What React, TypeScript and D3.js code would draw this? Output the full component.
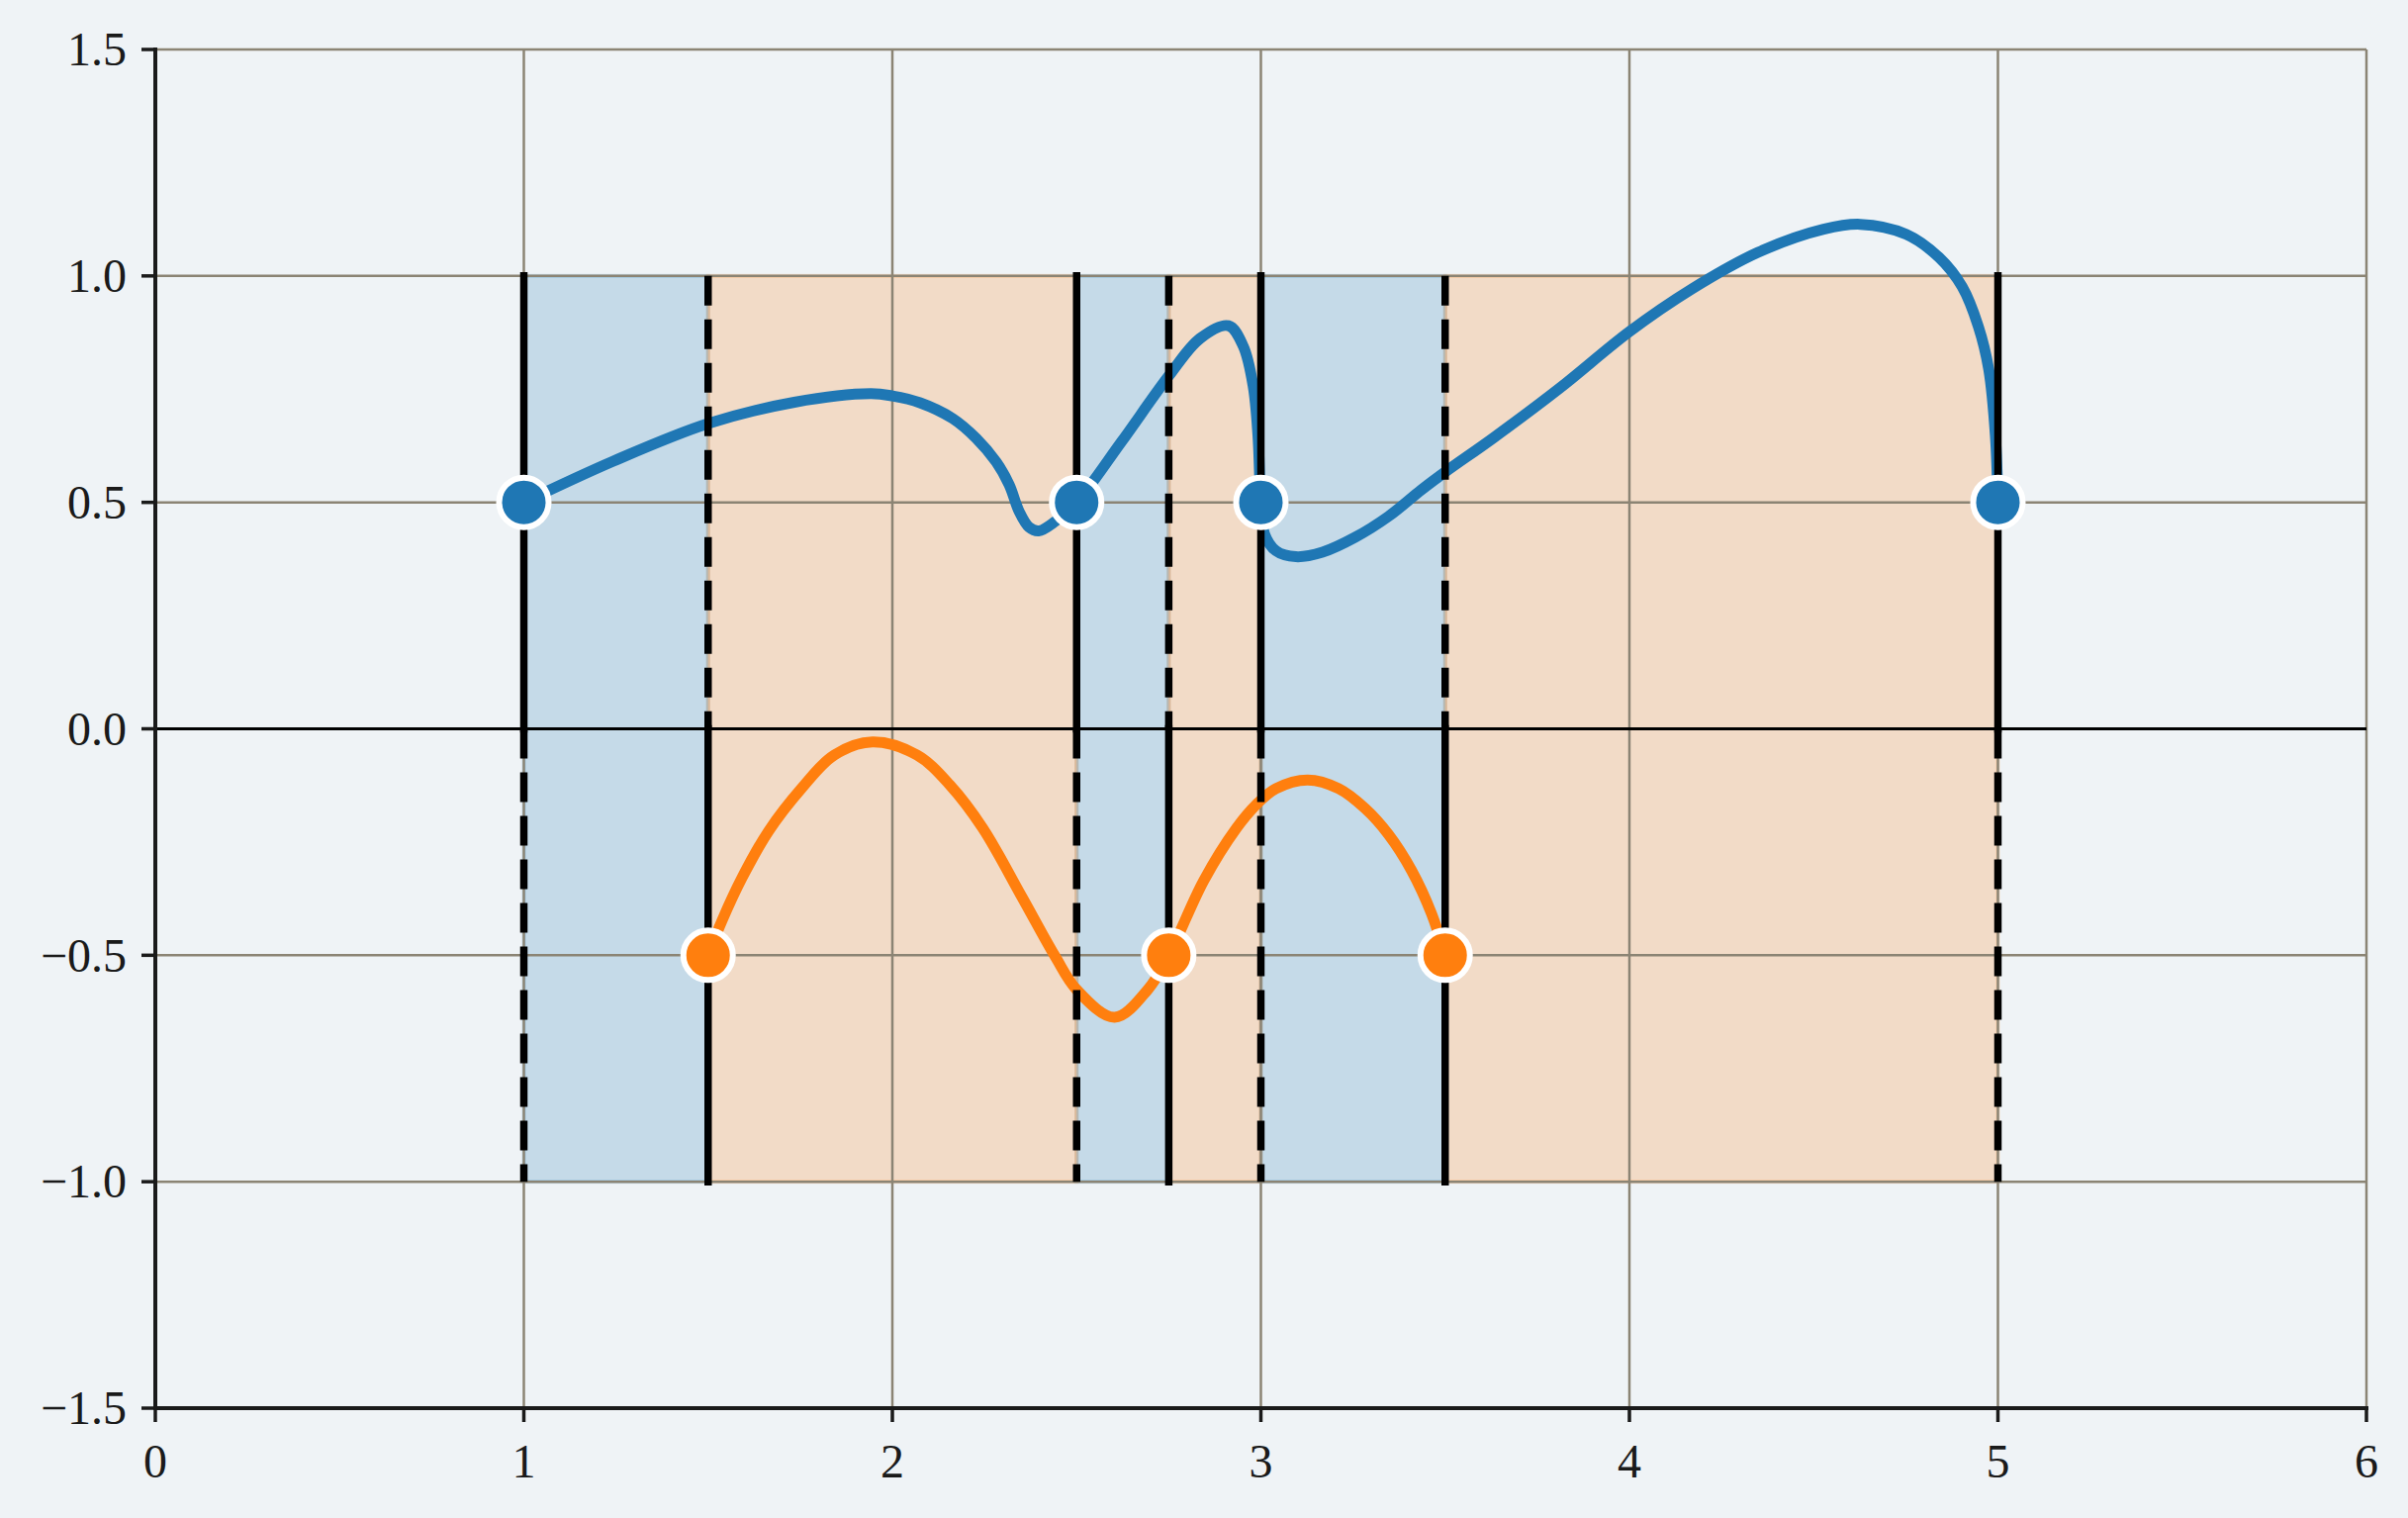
import { useEffect } from 'react';
import * as d3 from 'd3';

// tick values
const xTicks = [0, 1, 2, 3, 4, 5, 6];
const yTicks = [-1.5, -1, -0.5, 0, 0.5, 1, 1.5];

// shaded intervals
const blueSpans: [number, number][] = [[1, 1.5], [2.5, 2.75], [3, 3.5]];
const orangeSpans: [number, number][] = [[1.5, 2.5], [2.75, 3], [3.5, 5]];

// knots (markers)
const blueKnotsX = [1, 2.5, 3, 5];
const blueKnotY = 0.5;
const orangeKnotsX = [1.5, 2.75, 3.5];
const orangeKnotY = -0.5;

// curves
const blueCurve: [number, number][] = [
    [1, 0.5], [1.243, 0.591], [1.5, 0.674], [1.734, 0.721], [1.941, 0.74],
    [2.0, 0.735], [2.075, 0.72], [2.164, 0.685], [2.228, 0.641], [2.282, 0.589],
    [2.317, 0.539], [2.344, 0.48], [2.371, 0.445], [2.397, 0.437], [2.442, 0.458],
    [2.5, 0.5], [2.621, 0.633], [2.75, 0.779], [2.835, 0.862], [2.912, 0.89],
    [2.952, 0.845], [2.979, 0.757], [2.992, 0.648], [3.0, 0.5], [3.01, 0.43],
    [3.041, 0.393], [3.095, 0.38], [3.167, 0.39], [3.256, 0.423], [3.346, 0.469],
    [3.436, 0.528], [3.5, 0.567], [3.632, 0.643], [3.812, 0.753], [4.0, 0.877],
    [4.169, 0.971], [4.349, 1.052], [4.527, 1.103], [4.626, 1.114], [4.751, 1.092],
    [4.84, 1.041], [4.903, 0.976], [4.947, 0.888], [4.975, 0.794], [4.993, 0.648],
    [5.0, 0.5],
];
const orangeCurve: [number, number][] = [
    [1.5, -0.5], [1.538, -0.423], [1.592, -0.329], [1.664, -0.226], [1.753, -0.132],
    [1.842, -0.058], [1.946, -0.029], [2.067, -0.058], [2.156, -0.124], [2.245, -0.219],
    [2.352, -0.372], [2.442, -0.503], [2.5, -0.576], [2.603, -0.637], [2.693, -0.576],
    [2.75, -0.5], [2.845, -0.335], [2.934, -0.219], [2.988, -0.167], [3.041, -0.132],
    [3.127, -0.113], [3.211, -0.132], [3.283, -0.176], [3.346, -0.233], [3.409, -0.313],
    [3.463, -0.408], [3.5, -0.5],
];

const C0 = '#1f77b4';
const C1 = '#ff7f0e';
const BG = '#eff3f6';
const GRID = '#8b8474';
const FONT = '"Liberation Serif", "DejaVu Serif", serif';

const App = () => {
    useEffect(() => {
        document.body.style.margin = '0';
    }, []);

    const width = 2434;
    const height = 1534;
    const margin = { top: 50, right: 42, bottom: 111, left: 157 };

    const x = d3.scaleLinear().domain([0, 6]).range([margin.left, width - margin.right]);
    const y = d3.scaleLinear().domain([-1.5, 1.5]).range([height - margin.bottom, margin.top]);

    const line = d3.line<[number, number]>()
        .curve(d3.curveCatmullRom.alpha(0.5))
        .x(d => x(d[0]))
        .y(d => y(d[1]));

    const yFmt = d3.format('.1f');

    const span = (s: [number, number], color: string, i: number) => (
        <rect key={color + i}
            x={x(s[0])} width={x(s[1]) - x(s[0])}
            y={y(1)} height={y(-1) - y(1)}
            fill={color} fillOpacity={0.2}
            stroke={color} strokeOpacity={0.2} strokeWidth={4} />
    );

    // top half solid for blue knots, dashed for orange ones; bottom half the other way round
    const vline = (xv: number, topSolid: boolean) => (
        <g key={'v' + xv}>
            <line x1={x(xv)} x2={x(xv)} y1={y(1)} y2={y(0)}
                stroke="#000" strokeWidth={7.5}
                strokeLinecap={topSolid ? 'square' : 'butt'}
                strokeDasharray={topSolid ? undefined : '30 14'} />
            <line x1={x(xv)} x2={x(xv)} y1={y(0)} y2={y(-1)}
                stroke="#000" strokeWidth={7.5}
                strokeLinecap={topSolid ? 'butt' : 'square'}
                strokeDasharray={topSolid ? '30 14' : undefined} />
        </g>
    );

    return (
        <svg width={width} height={height} viewBox={`0 0 ${width} ${height}`}
            style={{ position: 'absolute', left: 0, top: 0, display: 'block' }}>
            <rect x={0} y={0} width={width} height={height} fill={BG} />

            {blueSpans.map((s, i) => span(s, C0, i))}
            {orangeSpans.map((s, i) => span(s, C1, i))}

            {/* grid */}
            <g stroke={GRID} strokeWidth={2.5}>
                {xTicks.map(t => (
                    <line key={'gx' + t} x1={x(t)} x2={x(t)} y1={y(1.5)} y2={y(-1.5)} />
                ))}
                {yTicks.filter(t => t !== 0).map(t => (
                    <line key={'gy' + t} x1={x(0)} x2={x(6)} y1={y(t)} y2={y(t)} />
                ))}
            </g>
            <line x1={x(0)} x2={x(6)} y1={y(0)} y2={y(0)} stroke="#000" strokeWidth={3.2} />

            {/* curves */}
            <path d={line(blueCurve) ?? ''} fill="none" stroke={C0} strokeWidth={11} strokeLinecap="round" strokeLinejoin="round" />
            <path d={line(orangeCurve) ?? ''} fill="none" stroke={C1} strokeWidth={11} strokeLinecap="round" strokeLinejoin="round" />

            {/* boundaries */}
            {blueKnotsX.map(v => vline(v, true))}
            {orangeKnotsX.map(v => vline(v, false))}

            {/* markers */}
            {blueKnotsX.map(v => (
                <circle key={'b' + v} cx={x(v)} cy={y(blueKnotY)} r={25} fill={C0} stroke="#fff" strokeWidth={6} />
            ))}
            {orangeKnotsX.map(v => (
                <circle key={'o' + v} cx={x(v)} cy={y(orangeKnotY)} r={25} fill={C1} stroke="#fff" strokeWidth={6} />
            ))}

            {/* spines */}
            <line x1={x(0)} x2={x(0)} y1={y(1.5)} y2={y(-1.5)} stroke="#1a1a1a" strokeWidth={4} strokeLinecap="square" />
            <line x1={x(0)} x2={x(6)} y1={y(-1.5)} y2={y(-1.5)} stroke="#1a1a1a" strokeWidth={4} strokeLinecap="square" />

            {/* y axis */}
            {yTicks.map(t => (
                <g key={'yt' + t}>
                    <line x1={x(0) - 14} x2={x(0)} y1={y(t)} y2={y(t)} stroke="#1a1a1a" strokeWidth={3.5} />
                    <text x={x(0) - 29} y={y(t)} dy="0.34em" textAnchor="end"
                        fontFamily={FONT} fontSize={48} fill="#1a1a1a">{yFmt(t)}</text>
                </g>
            ))}

            {/* x axis */}
            {xTicks.map(t => (
                <g key={'xt' + t}>
                    <line x1={x(t)} x2={x(t)} y1={y(-1.5)} y2={y(-1.5) + 14} stroke="#1a1a1a" strokeWidth={3.5} />
                    <text x={x(t)} y={y(-1.5) + 70} textAnchor="middle"
                        fontFamily={FONT} fontSize={48} fill="#1a1a1a">{t}</text>
                </g>
            ))}
        </svg>
    );
};

export default App;
